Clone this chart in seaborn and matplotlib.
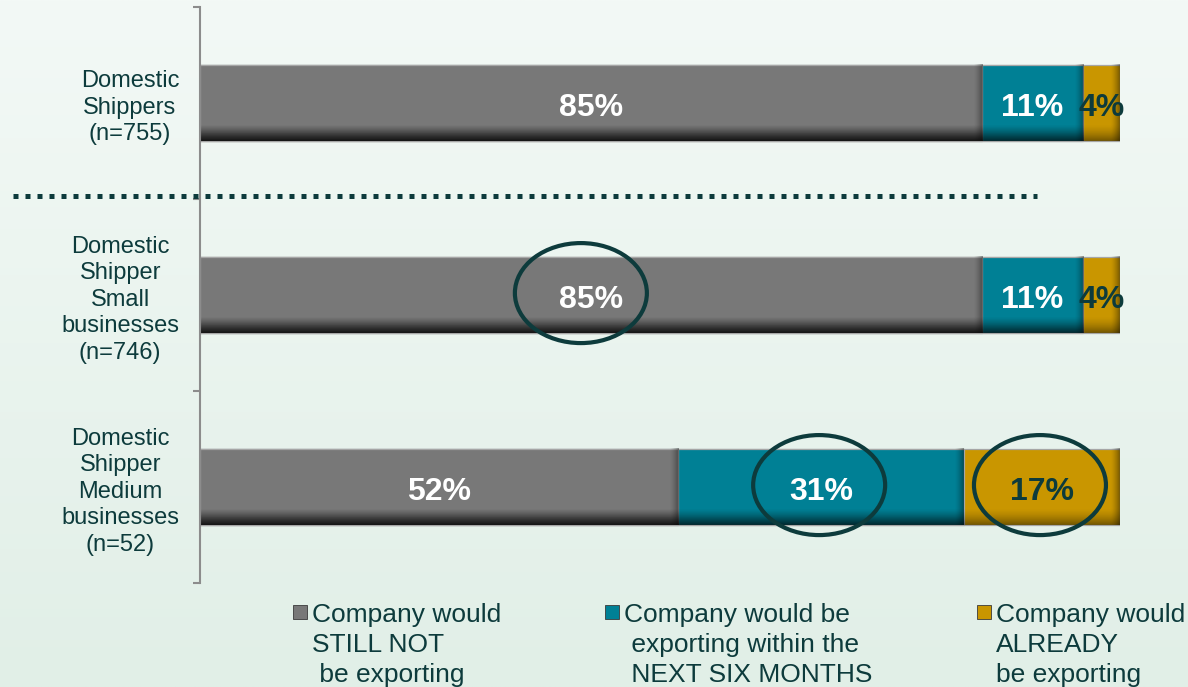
import numpy as np
import pandas as pd
import matplotlib
matplotlib.use("Agg")
import matplotlib.pyplot as plt
from matplotlib.patches import Ellipse, Rectangle
import seaborn as sns

# ---- data -------------------------------------------------------------
categories = [
    "Domestic\nShippers\n(n=755)",
    "Domestic\nShipper\nSmall\nbusinesses\n(n=746)",
    "Domestic\nShipper\nMedium\nbusinesses\n(n=52)",
]
still_not = [85, 85, 52]
next_six_months = [11, 11, 31]
already = [4, 4, 17]

series_names = [
    "Company would\nSTILL NOT\n be exporting",
    "Company would be\n exporting within the\n NEXT SIX MONTHS",
    "Company would\nALREADY\nbe exporting",
]
series_colors = ["#787878", "#008095", "#c99600"]
label_colors = ["white", "white", "#0d3b3c"]

# (row, segment) pairs circled for emphasis
highlights = [(1, 0), (2, 1), (2, 2)]

# ---- styling ----------------------------------------------------------
sns.set_theme(style="white")
plt.rcParams["font.family"] = ["Liberation Sans", "DejaVu Sans"]
TEXT = "#0d3b3c"

W, H, DPI = 11.88, 6.87, 100
fig = plt.figure(figsize=(W, H), dpi=DPI)

# soft mint background gradient
bg = fig.add_axes([0, 0, 1, 1], zorder=-10)
top_c = np.array(matplotlib.colors.to_rgb("#f3f9f6"))
bot_c = np.array(matplotlib.colors.to_rgb("#e1efe7"))
t = np.linspace(0, 1, 256)[:, None, None]
grad = top_c * (1 - t) + bot_c * t
bg.imshow(np.repeat(grad, 4, axis=1), aspect="auto", extent=(0, 1, 0, 1))
bg.set_axis_off()

def px_box(x0, y0, x1, y1):
    return [x0 / (W * DPI), 1 - y1 / (H * DPI), (x1 - x0) / (W * DPI), (y1 - y0) / (H * DPI)]

ax = fig.add_axes(px_box(200, 7, 1120, 583))
ax.set_facecolor("none")

# ---- stacked bars (cumulative totals drawn back to front) -------------
segments = [still_not, next_six_months, already]
cum = np.cumsum(np.array(segments), axis=0)
df = pd.DataFrame({"category": categories})
for k in range(2, -1, -1):
    df["value"] = cum[k]
    sns.barplot(data=df, x="value", y="category", orient="h", color=series_colors[k],
                saturation=1, width=0.4, edgecolor="#a6a6a6", linewidth=0.9, ax=ax)

ax.set_xlim(0, 100)
ax.set_ylim(2.5, -0.5)

# bevel shading: darken the bottom band and right edge of each segment
fig.canvas.draw()
sx = ax.bbox.width / 100.0
sy = ax.bbox.height / 3.0
for p in list(ax.patches):
    x0, y0, w, h = p.get_x(), p.get_y(), p.get_width(), p.get_height()
    if w <= 0:
        continue
    nw, nh = max(int(w * sx), 2), max(int(h * sy), 2)
    yy = np.linspace(0, 1, nh)[:, None]
    xx = np.linspace(0, nw, nw)[None, :]
    a_v = np.clip((yy - 0.78) / 0.22, 0, 1) ** 1.6 * 0.42
    a_h = np.clip((xx - (nw - 9)) / 9, 0, 1) ** 1.5 * 0.38
    alpha = 1 - (1 - a_v) * (1 - a_h)
    rgba = np.zeros((nh, nw, 4))
    rgba[..., 3] = alpha
    ax.imshow(rgba, extent=(x0, x0 + w, y0 + h, y0), origin="upper",
              aspect="auto", zorder=p.get_zorder() + 0.1, interpolation="bilinear")
ax.set_xlim(0, 100)
ax.set_ylim(2.5, -0.5)

# value labels centred in each segment
for k in range(3):
    for i in range(len(categories)):
        left = cum[k][i] - segments[k][i]
        ax.text(left + segments[k][i] / 2, i + 0.025, f"{segments[k][i]}%", ha="center", va="center",
                fontsize=23, fontweight="bold", color=label_colors[k], zorder=5, clip_on=False)

# emphasis ellipses
for i, k in highlights:
    mid = cum[k][i] - segments[k][i] / 2
    dx = -1.1 if k == 0 else -0.2
    ax.add_patch(Ellipse((mid + dx, i - 0.01), width=132 / sx, height=100 / sy,
                         fill=False, edgecolor=TEXT, linewidth=3.0, zorder=6, clip_on=False))

# dotted separator between the total and the breakdown
ax.plot([-187 / sx, 837 / sx], [0.484, 0.484], color=TEXT, linewidth=3.6,
        linestyle=(0, (1, 1.4)), dash_capstyle="butt", clip_on=False, zorder=6)

# ---- axes cosmetics ---------------------------------------------------
for s in ["top", "right", "bottom"]:
    ax.spines[s].set_visible(False)
ax.spines["left"].set_color("#8c8c8c")
ax.spines["left"].set_linewidth(1.5)
ax.set_xticks([])
ax.set_xlabel("")
ax.set_ylabel("")
ax.set_yticks(range(len(categories)))
ax.set_yticklabels(categories, fontsize=17, color=TEXT, multialignment="center", linespacing=1.27)
ax.set_yticks([-0.5, 0.5, 1.5, 2.5], minor=True)
ax.tick_params(axis="y", which="major", length=0, pad=15)
ax.tick_params(axis="y", which="minor", length=5, width=1.5, color="#8c8c8c", left=True)

# ---- legend -----------------------------------------------------------
text_x = [312, 624, 996]
first_base = 622
for k in range(3):
    sq = Rectangle(((text_x[k] - 19) / (W * DPI), 1 - 619 / (H * DPI)),
                   14 / (W * DPI), 14 / (H * DPI), transform=fig.transFigure,
                   facecolor=series_colors[k], edgecolor="#3a3a3a", linewidth=0.6)
    fig.add_artist(sq)
    for j, line in enumerate(series_names[k].split("\n")):
        fig.text(text_x[k] / (W * DPI), 1 - (first_base + 30 * j) / (H * DPI), line,
                 fontsize=19, color=TEXT, ha="left", va="baseline")

fig.savefig("out.png", dpi=DPI)
